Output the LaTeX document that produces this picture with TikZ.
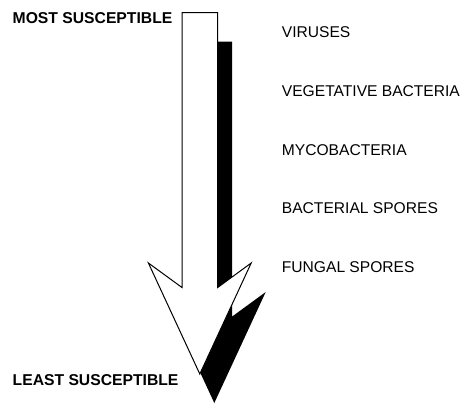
\documentclass[tikz,border=0pt]{standalone}
\usepackage{fontspec}
\setmainfont{Liberation Sans}
\begin{document}
\begin{tikzpicture}[x=1pt,y=-1pt,
  lab/.style={anchor=base west, inner sep=0pt, font=\fontsize{15.6}{18}\selectfont},
  endlab/.style={anchor=base west, inner sep=0pt, font=\fontsize{15.7}{18}\selectfont\bfseries},
  arr/.pic={\path[pic actions] (182,12.7) -- (217.7,12.7) -- (217.7,287.5) -- (251.2,263) -- (199.8,374) -- (148.4,263) -- (182,287.5) -- cycle;}]
\useasboundingbox (0,0) rectangle (468,405);
\pic[fill=black] at (14.5,29) {arr};
\pic[fill=white, draw=black, line width=1pt] at (0,0) {arr};
\node[endlab] (most) at (12.5,23.2) {MOST SUSCEPTIBLE};
\node[endlab] (least) at (12.5,385.5) {LEAST SUSCEPTIBLE};
\node[lab] (v1) at (281.7,37.6) {VIRUSES};
\node[lab] (v2) at (281.7,96.3) {VEGETATIVE BACTERIA};
\node[lab] (v3) at (281.7,155.1) {MYCOBACTERIA};
\node[lab] (v4) at (281.7,213.8) {BACTERIAL SPORES};
\node[lab] (v5) at (281.7,272.5) {FUNGAL SPORES};
\end{tikzpicture}
\end{document}
